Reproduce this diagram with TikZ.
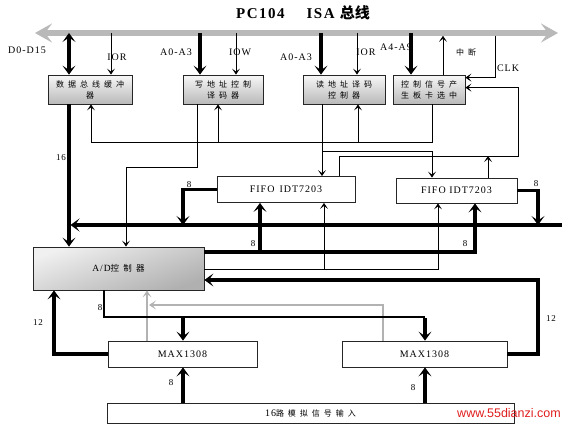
\documentclass[tikz,border=0pt]{standalone}
\usepackage{fontspec}
\setmainfont{Liberation Serif}[LetterSpace=10]
\newfontfamily\cjk{Noto Sans CJK SC}[LetterSpace=50]
\newfontfamily\cjkt{Noto Sans CJK SC}
\newfontfamily\wmfont{Liberation Sans}
\usetikzlibrary{arrows.meta}
\definecolor{wmred}{RGB}{225,30,30}
\begin{document}
\begin{tikzpicture}[x=1pt,y=-1pt,
  gbox/.style={draw=black!85, line width=0.8pt, top color=gray!6, bottom color=gray!55,
    align=center, inner sep=0pt, minimum height=29pt, font=\cjk\fontsize{8}{11}\selectfont},
  wbox/.style={draw=black!85, line width=0.8pt, fill=white, inner sep=0pt,
    font=\fontsize{10}{12}\selectfont},
  lbl/.style={inner sep=0pt, font=\fontsize{10}{12}\selectfont},
  nlbl/.style={inner sep=0pt, font=\fontsize{9}{11}\selectfont},
  thk/.style={line width=3.3pt, -{Stealth[length=9pt,width=13pt,inset=4.5pt]}},
  thkboth/.style={line width=3.3pt, {Stealth[length=9pt,width=13pt,inset=4.5pt]}-{Stealth[length=9pt,width=13pt,inset=4.5pt]}},
  thkl/.style={line width=3.3pt},
  med/.style={line width=2.4pt},
  thn/.style={line width=0.8pt, -{Stealth[length=6pt,width=8pt,inset=3pt]}},
  thnl/.style={line width=0.8pt},
  gry/.style={line width=1.3pt, draw=gray!60, -{Stealth[length=7pt,width=9pt,inset=3.5pt]}},
  gryl/.style={line width=1.3pt, draw=gray!60}
]
\useasboundingbox (0,0) rectangle (570,426);

% title
\node[inner sep=0pt, font=\bfseries\fontsize{15}{17}\selectfont] (title) at (303,13)
  {PC104\hspace{22pt}ISA {\cjkt\bfseries 总线}};

% ISA bus
\coordinate (busL) at (35,33);
\coordinate (busR) at (558,33);
\draw[line width=5.5pt, draw=gray!55,
  {Stealth[length=17pt,width=19pt,inset=7pt]}-{Stealth[length=17pt,width=19pt,inset=7pt]}] (busL) -- (busR);

% boxes
\node[gbox, minimum width=84pt] (b1) at (90,89.5) {数据总线缓冲\\器};
\node[gbox, minimum width=80pt] (b2) at (223,89.5) {写地址控制\\译码器};
\node[gbox, minimum width=82pt] (b3) at (344,89.5) {读地址译码\\控制器};
\node[gbox, minimum width=72pt] (b4) at (429,89.5) {控制信号产\\生板卡选中};

\node[wbox, minimum width=138pt, minimum height=26pt] (f1) at (286,189.5) {FIFO\hspace{5pt}IDT7203};
\node[wbox, minimum width=121pt, minimum height=25pt] (f2) at (456.5,190.5) {FIFO IDT7203};

\node[draw=black!85, line width=0.8pt, shading=axis, top color=gray!12, bottom color=gray!62,
  shading angle=20, inner sep=0pt, minimum width=171pt, minimum height=43pt,
  font=\fontsize{9.5}{11}\selectfont] (ad) at (118.5,268.5) {A/D{\cjk\fontsize{8.5}{10}\selectfont 控制器}};

\node[wbox, minimum width=149pt, minimum height=26pt] (m1) at (182.5,354) {MAX1308};
\node[wbox, minimum width=165pt, minimum height=26pt] (m2) at (424.5,354) {MAX1308};
\node[wbox, minimum width=407pt, minimum height=20pt] (in) at (310.5,413)
  {16{\cjk\fontsize{8}{10}\selectfont 路模拟信号输入}};

% bus taps
\coordinate (bD) at (69,33);
\coordinate (bIOR1) at (111,33);
\coordinate (bA1) at (200,33);
\coordinate (bIOW) at (236,33);
\coordinate (bA2) at (321,33);
\coordinate (bIOR2) at (357,33);
\coordinate (bA3) at (411,33);
\coordinate (bINT) at (443,33);
\coordinate (bCLK) at (495,33);

\draw[thkboth] (bD) -- (bD |- b1.north);
\draw[thn] (bIOR1) -- (bIOR1 |- b1.north);
\draw[thk] (bA1) -- (bA1 |- b2.north);
\draw[thn] (bIOW) -- (bIOW |- b2.north);
\draw[thk] (bA2) -- (bA2 |- b3.north);
\draw[thn] (bIOR2) -- (bIOR2 |- b3.north);
\draw[thk] (bA3) -- (bA3 |- b4.north);
\draw[thn] (bINT |- b4.north) -- ([yshift=-2.8pt]bINT);
\draw[thn] ([yshift=-2.8pt]bCLK) |- ([yshift=-3pt]b4.north east);

% FIFO -> box4 right
\coordinate (c1) at (339,156);
\coordinate (c2) at (518,156);
\coordinate (c3) at (488,156);
\draw[thn] (c1 |- f1.north) -- (c1) -- (c2) |- ([yshift=-13pt]b4.north east);
\draw[thn] (c3 |- f2.north) -- (c3);

% box4 bottom -> boxes 1,2,3
\coordinate (k4) at (432,142);
\coordinate (k1) at (91,142);
\coordinate (k2) at (218,142);
\coordinate (k3) at (358,142);
\draw[thnl] (k4 |- b4.south) -- (k4) -- (k1);
\draw[thn] (k1) -- (k1 |- b1.south);
\draw[thn] (k2) -- (k2 |- b2.south);
\draw[thn] (k3) -- (k3 |- b3.south);

% box2 bottom -> A/D
\coordinate (d1) at (197,167);
\coordinate (d2) at (126,167);
\draw[thn] (d1 |- b2.south) -- (d1) -- (d2) -- (d2 |- ad.north);

% box3 bottom -> FIFOs
\coordinate (n1) at (322,151);
\coordinate (n2) at (432,151);
\draw[thn] (n1 |- b3.south) -- (n1 |- f1.north);
\draw[thn] (n1) -- (n2) -- (n2 |- f2.north);

% data bus 16
\draw[thk] (bD |- b1.south) -- (bD |- ad.north);
\coordinate (dbR) at (562,225);
\coordinate (dbL) at (70.5,225);
\draw[thk] (dbR) -- (dbL);

% FIFO outputs to data bus
\coordinate (p1) at (183,189.5);
\coordinate (p2) at (538,190.5);
\draw[med] (f1.west) -- ([xshift=-1.6pt]p1);
\draw[thk] ([yshift=1pt]p1) -- (p1 |- dbL);
\draw[med] (f2.east) -- ([xshift=1.6pt]p2);
\draw[thk] ([yshift=1pt]p2) -- (p2 |- dbL);

% A/D -> FIFO inputs (8 bit)
\coordinate (q1) at (475,252);
\coordinate (q2) at (260,252);
\draw[thk] (ad.east |- q1) -- (q1) -- (q1 |- f2.south);
\draw[thk] (q2) -- (q2 |- f1.south);

% A/D -> FIFO write signals
\coordinate (s1) at (438,269);
\coordinate (s2) at (324,269);
\draw[thn] (ad.east |- s1) -- (s1) -- (s1 |- f2.south);
\draw[thn] (s2) -- (s2 |- f1.south);

% MAX2 -> A/D (12)
\coordinate (t1) at (538,354);
\coordinate (t2) at (538,280);
\draw[thk] (m2.east) -- (t1) -- (t2) -- (t2 -| ad.east);

% gray signals
\coordinate (g1) at (383,305);
\coordinate (g2) at (149,305);
\coordinate (g3) at (147,305);
\draw[gry] (g1 |- m2.north) -- (g1) -- (g2);
\draw[gry] (g3 |- m1.north) -- (g3 |- ad.south);

% A/D -> MAX (8)
\coordinate (u0) at (104,317);
\coordinate (u1) at (425,317);
\coordinate (u2) at (183,317);
\draw[med] (u0 |- ad.south) -- (u0) -- (u1);
\draw[thk] ([yshift=-1pt]u1) -- (u1 |- m2.north);
\draw[thk] (u2) -- (u2 |- m1.north);

% MAX1 -> A/D (12)
\coordinate (w1) at (54,354);
\draw[thk] (m1.west) -- (w1) -- (w1 |- ad.south);

% inputs
\draw[thk] (u2 |- in.north) -- (u2 |- m1.south);
\draw[thk] (u1 |- in.north) -- (u1 |- m2.south);

% labels
\node[lbl] (lD) at (27,50) {D0-D15};
\node[lbl] (lIOR1) at (117,57) {IOR};
\node[lbl] (lA1) at (176,52) {A0-A3};
\node[lbl] (lIOW) at (240,52) {IOW};
\node[lbl] (lA2) at (296,57) {A0-A3};
\node[lbl] (lIOR2) at (366,52) {IOR};
\node[lbl] (lA3) at (396,47) {A4-A9};
\node[inner sep=0pt, font=\cjk\fontsize{8}{10}\selectfont] (lINT) at (466,52) {中断};
\node[lbl] (lCLK) at (508,68) {CLK};
\node[nlbl] (l16) at (61,158) {16};
\node[nlbl] (l8a) at (189,185) {8};
\node[nlbl] (l8b) at (253,244) {8};
\node[nlbl] (l8c) at (465,244) {8};
\node[nlbl] (l8d) at (536,184) {8};
\node[nlbl] (l8e) at (100,308) {8};
\node[nlbl] (l12a) at (38,323) {12};
\node[nlbl] (l12b) at (551,319) {12};
\node[nlbl] (l8f) at (171,383) {8};
\node[nlbl] (l8g) at (413,388) {8};

% watermark
\node[inner sep=0pt, text=wmred, font=\wmfont\fontsize{12.5}{14}\selectfont] (wm) at (509,413) {www.55dianzi.com};
\end{tikzpicture}
\end{document}
